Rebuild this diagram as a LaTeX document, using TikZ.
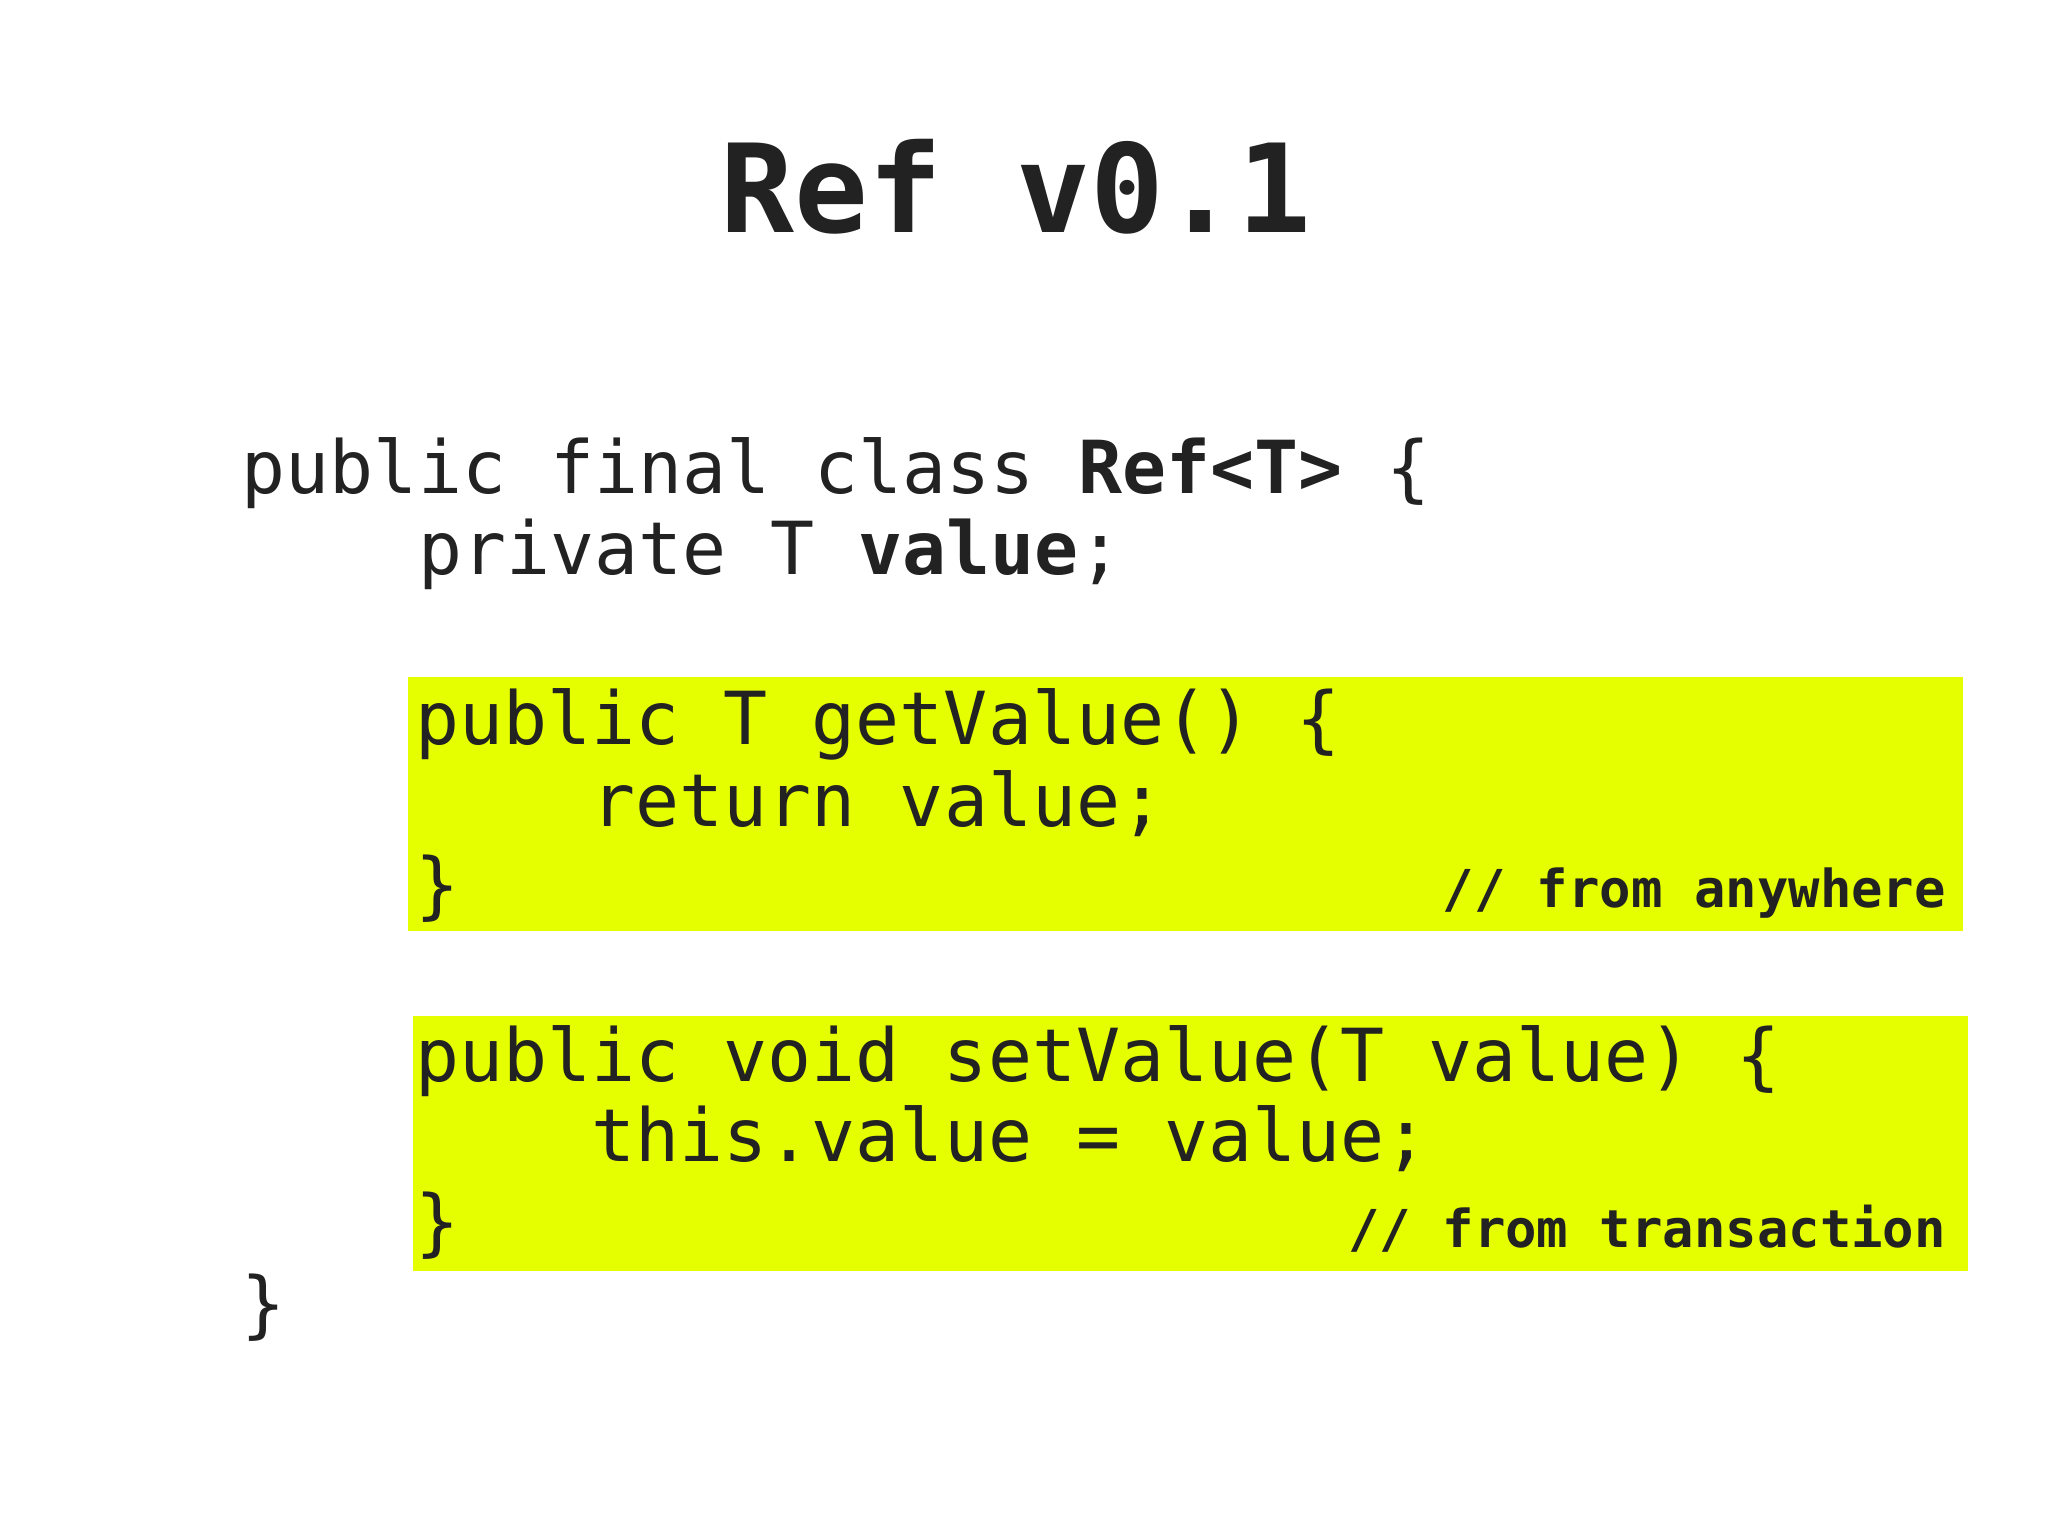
\documentclass[tikz,border=0pt]{standalone}
\usepackage{fontspec}
\setmonofont{DejaVu Sans Mono}
\definecolor{hl}{HTML}{E5FF00}
\definecolor{ink}{HTML}{222222}
\begin{document}
\begin{tikzpicture}[x=1pt,y=-1pt,
  code/.style={anchor=base west,inner sep=0pt,text=ink,font=\ttfamily\fontsize{56}{60}\selectfont},
  cmt/.style={anchor=base east,inner sep=0pt,text=ink,font=\ttfamily\bfseries\fontsize{40}{44}\selectfont},
  box/.style={fill=hl,draw=none}]
\useasboundingbox (0,0) rectangle (1568,1176);
\fill[white] (0,0) rectangle (1568,1176);
\fill[box] (312,518) rectangle (1503,713);
\fill[box] (316,778) rectangle (1507,973);
\node[anchor=base,inner sep=0pt,text=ink,font=\ttfamily\bfseries\fontsize{94}{100}\selectfont] (title) at (778,178) {Ref v0.1};
\node[code] (l1) at (185,378) {public final class \textbf{Ref<T>} \{};
\node[code] (l2) at (185,440) {\ \ \ \ private T \textbf{value};};
\node[code] (l3) at (318,570) {public T getValue() \{};
\node[code] (l4) at (318,633) {\ \ \ \ return value;};
\node[code] (l5) at (318,697) {\}};
\node[cmt] (c1) at (1490,695) {// from anywhere};
\node[code] (l6) at (318,828) {public void setValue(T value) \{};
\node[code] (l7) at (318,889) {\ \ \ \ this.value = value;};
\node[code] (l8) at (318,955) {\}};
\node[cmt] (c2) at (1490,955) {// from transaction};
\node[code] (l9) at (185,1018) {\}};
\end{tikzpicture}
\end{document}
